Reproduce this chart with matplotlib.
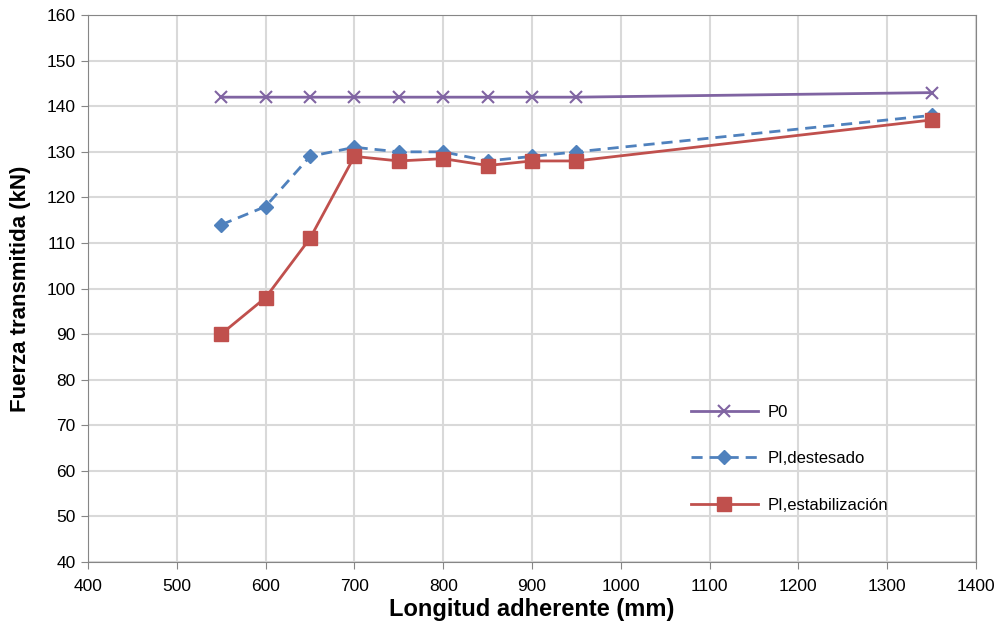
import matplotlib.pyplot as plt

plt.rcParams['font.family'] = ['Liberation Sans', 'DejaVu Sans']

longitud = [550, 600, 650, 700, 750, 800, 850, 900, 950, 1350]
p0 = [142, 142, 142, 142, 142, 142, 142, 142, 142, 143]
pi_destesado = [114, 118, 129, 131, 130, 130, 128, 129, 130, 138]
pi_estab = [90, 98, 111, 129, 128, 128.5, 127, 128, 128, 137]

fig = plt.figure(figsize=(10, 6.32), dpi=100)
ax = fig.add_axes([0.088, 0.111, 0.888, 0.865])

ax.plot(longitud, p0, color='#8064A2', lw=2, marker='x', ms=9, mew=1.5, label='P0')
ax.plot(longitud, pi_destesado, color='#4F81BD', lw=2, ls=(0, (4, 2.5)), marker='D', ms=7,
        label='PI,destesado')
ax.plot(longitud, pi_estab, color='#C0504D', lw=2, marker='s', ms=10, label='PI,estabilización')

ax.set_xlim(400, 1400)
ax.set_ylim(40, 160)
ax.set_xticks(range(400, 1401, 100))
ax.set_yticks(range(40, 161, 10))
ax.grid(True, color='#D9D9D9', lw=1.5)
ax.set_axisbelow(True)
for s in ax.spines.values():
    s.set_color('#868686')
ax.tick_params(labelsize=12.5, color='#868686', length=5)
ax.tick_params(axis='x', pad=7)
ax.tick_params(axis='y', pad=4)

ax.set_xlabel('Longitud adherente (mm)', fontsize=17, fontweight='bold', labelpad=3)
ax.set_ylabel('Fuerza transmitida (kN)', fontsize=16, fontweight='bold', labelpad=11)

ax.legend(loc='upper left', bbox_to_anchor=(0.662, 0.315), frameon=False, fontsize=12,
          labelspacing=1.9, handlelength=4.0, handletextpad=0.6)

fig.savefig('out.png')
